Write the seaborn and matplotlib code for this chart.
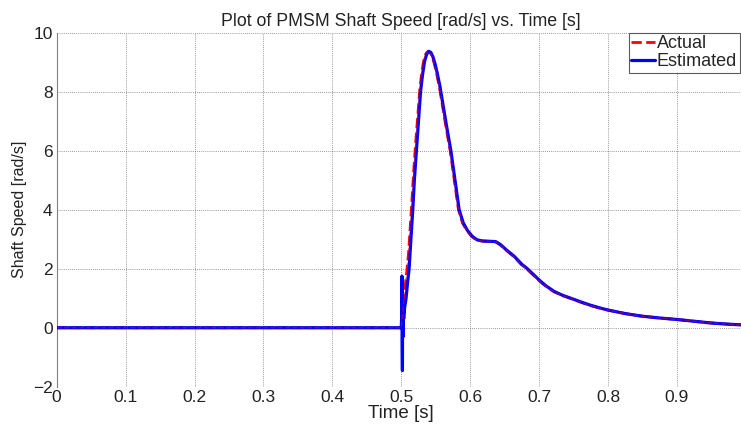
import numpy as np
import pandas as pd
import matplotlib
matplotlib.use("Agg")
import matplotlib.pyplot as plt
import seaborn as sns

sns.set_style("white")
plt.rcParams['font.family'] = ['Liberation Sans', 'DejaVu Sans']

# estimated shaft speed (blue)
time_est = [0.0, 0.5, 0.5005, 0.501, 0.5013, 0.5017, 0.502, 0.5025, 0.503, 0.5035,
            0.505, 0.507, 0.509, 0.5114, 0.514, 0.5167, 0.519, 0.522, 0.525, 0.528,
            0.531, 0.534, 0.537, 0.540, 0.543, 0.546, 0.549, 0.552, 0.556, 0.561,
            0.566, 0.572, 0.578, 0.584, 0.590, 0.596, 0.603, 0.610, 0.618, 0.628,
            0.637, 0.644, 0.652, 0.664, 0.675, 0.683, 0.692, 0.700, 0.710, 0.722,
            0.734, 0.746, 0.760, 0.775, 0.790, 0.800, 0.825, 0.850, 0.875, 0.900,
            0.925, 0.950, 0.975, 1.0]
speed_est = [0.0, 0.0, 0.3, 1.75, -0.5, -1.45, 0.9, -0.3, 0.8, 0.3,
             0.7, 1.0, 1.5, 2.0, 3.0, 4.0, 5.0, 6.0, 7.0, 8.0,
             8.6, 9.05, 9.28, 9.37, 9.33, 9.18, 8.95, 8.65, 8.2, 7.5,
             6.8, 6.0, 5.0, 4.0, 3.55, 3.3, 3.1, 2.98, 2.94, 2.93,
             2.92, 2.82, 2.65, 2.42, 2.15, 2.0, 1.8, 1.62, 1.42, 1.23,
             1.1, 1.0, 0.88, 0.76, 0.66, 0.60, 0.48, 0.39, 0.33, 0.28,
             0.22, 0.16, 0.12, 0.09]

# actual shaft speed (red dashed)
time_act = [0.0, 0.5, 0.502, 0.504, 0.506, 0.508, 0.5105, 0.513, 0.5157, 0.518,
            0.521, 0.524, 0.527, 0.530, 0.533, 0.536, 0.539, 0.542, 0.545, 0.548,
            0.551, 0.555, 0.560, 0.565, 0.571, 0.577, 0.583, 0.589, 0.595, 0.602,
            0.609, 0.617, 0.627, 0.636, 0.643, 0.651, 0.663, 0.674, 0.682, 0.691,
            0.699, 0.709, 0.721, 0.733, 0.745, 0.759, 0.774, 0.789, 0.800, 0.825,
            0.850, 0.875, 0.900, 0.925, 0.950, 0.975, 1.0]
speed_act = [0.0, 0.0, 0.5, 1.0, 1.5, 1.9, 2.5, 3.4, 4.4, 5.3,
             6.3, 7.2, 8.1, 8.7, 9.1, 9.3, 9.37, 9.33, 9.18, 8.95,
             8.65, 8.2, 7.5, 6.8, 6.0, 5.0, 4.0, 3.55, 3.3, 3.1,
             2.98, 2.94, 2.93, 2.92, 2.82, 2.65, 2.42, 2.15, 2.0, 1.8,
             1.62, 1.42, 1.23, 1.1, 1.0, 0.88, 0.76, 0.66, 0.60, 0.48,
             0.39, 0.33, 0.28, 0.22, 0.16, 0.12, 0.09]

x_ticks = [0, 0.1, 0.2, 0.3, 0.4, 0.5, 0.6, 0.7, 0.8, 0.9]
x_labels = ['0', '0.1', '0.2', '0.3', '0.4', '0.5', '0.6', '0.7', '0.8', '0.9']
y_ticks = [-2, 0, 2, 4, 6, 8, 10]

act_df = pd.DataFrame({'Time': time_act, 'Speed': speed_act})
est_df = pd.DataFrame({'Time': time_est, 'Speed': speed_est})

fig = plt.figure(figsize=(7.41, 4.25), dpi=100)
ax = fig.add_axes([0.0765, 0.09, 0.93, 0.833])

sns.lineplot(data=act_df, x='Time', y='Speed', ax=ax, color='#ff0000',
             linestyle='--', linewidth=2.0, label='Actual', zorder=3)
sns.lineplot(data=est_df, x='Time', y='Speed', ax=ax, color='#0000ff',
             linewidth=2.3, label='Estimated', zorder=4)
# faint red dashes on top so the red peeks through like the reference
sns.lineplot(data=act_df, x='Time', y='Speed', ax=ax, color='#ff0000',
             linestyle='--', linewidth=1.0, legend=False, zorder=5, alpha=0.5)

ax.set_xlim(0, 1.0)
ax.set_ylim(-2, 10)
ax.set_xticks(x_ticks)
ax.set_xticklabels(x_labels)
ax.set_yticks(y_ticks)
ax.grid(True, color='#555555', linestyle=(0, (1, 1.5)), linewidth=0.6, alpha=0.8)

for side in ['top', 'right', 'bottom']:
    ax.spines[side].set_visible(False)
ax.spines['left'].set_color('#808080')
ax.spines['left'].set_linewidth(0.8)
ax.tick_params(axis='both', labelsize=12.5, length=0, colors='#222222')
ax.tick_params(axis='x', pad=2)
ax.tick_params(axis='y', pad=3)

ax.set_title('Plot of PMSM Shaft Speed [rad/s] vs. Time [s]', fontsize=12.8,
             color='#222222', pad=5)
ax.set_xlabel('Time [s]', fontsize=13.5, color='#222222', labelpad=0)
ax.set_ylabel('Shaft Speed [rad/s]', fontsize=11.5, color='#222222', labelpad=4)

leg = ax.legend(loc='upper right', bbox_to_anchor=(0.991, 1.0), fontsize=13,
                frameon=True, fancybox=False, handlelength=1.3, handletextpad=0.1,
                borderpad=0.15, labelspacing=0.05, borderaxespad=0.0)
leg.get_frame().set_edgecolor('#333333')
leg.get_frame().set_linewidth(0.8)

fig.savefig('out.png', dpi=100)
